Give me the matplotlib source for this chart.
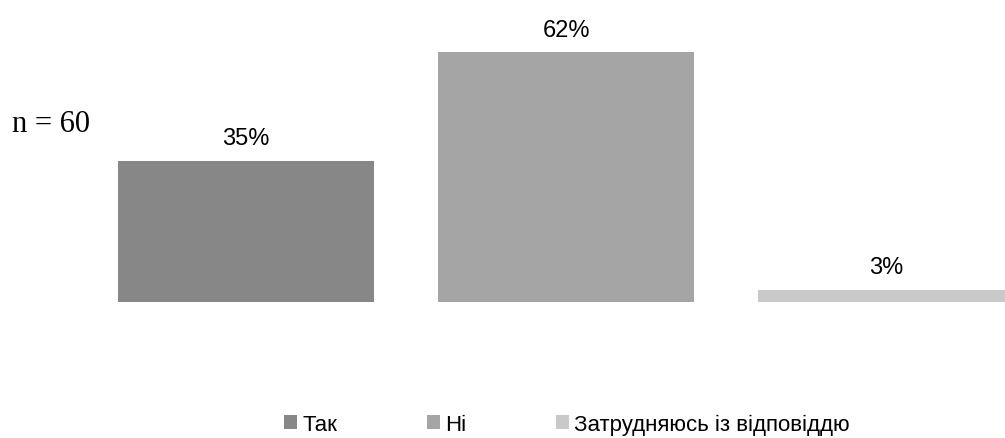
import matplotlib
matplotlib.use("Agg")
import matplotlib.pyplot as plt

categories = ["Так", "Ні", "Затрудняюсь із відповіддю"]
values = [35, 62, 3]
labels = ["35%", "62%", "3%"]
COLORS = ["#878787", "#a5a5a5", "#c9c9c9"]

W, H = 1005, 439
SANS = ["Liberation Sans Narrow", "Liberation Sans", "DejaVu Sans"]

fig = plt.figure(figsize=(W / 100, H / 100), dpi=100)
# axes from baseline (y=302.7 px from top) up to the top of the figure
base = (H - 302.7) / H
ax = fig.add_axes([0, base, 1, 1 - base])
ax.set_xlim(-246 / 320, (W - 246) / 320)
ax.set_ylim(0, 302.7 / 4.02)
ax.axis("off")

x = list(range(len(values)))
bars = ax.bar(x, values, width=0.8, color=COLORS, clip_on=True)

for xi, v, lab in zip(x, values, labels):
    ax.annotate(lab, (xi, v), xytext=(0, 12.2), textcoords="offset points",
                ha="center", va="baseline", fontsize=17, family=SANS)

fig.text(12 / W, 1 - 132 / H, "n = 60", ha="left", va="baseline",
         fontsize=22, family=["Liberation Serif", "DejaVu Serif"])

leg = fig.legend(bars, categories, loc="center", bbox_to_anchor=(567 / W, 1 - 425 / H),
                 ncol=3, frameon=False, handlelength=0.6, handleheight=0.6,
                 handletextpad=0.25, columnspacing=4.0,
                 prop={"family": SANS, "size": 16})

fig.savefig("out.png", dpi=100)
